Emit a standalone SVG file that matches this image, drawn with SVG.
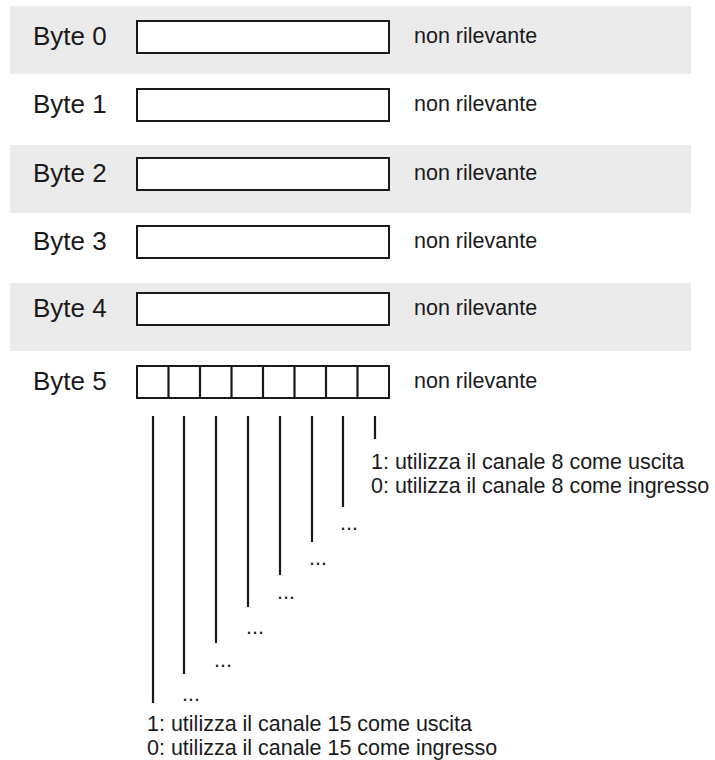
<svg xmlns="http://www.w3.org/2000/svg" width="715" height="760" viewBox="0 0 715 760">
<style>
.band{fill:#ebebeb}
.box{fill:#fff;stroke:#1a1a1a;stroke-width:2}
.lbl{font-family:"Liberation Sans",Arial,sans-serif;font-size:26px;fill:#1a1a1a}
.txt{font-family:"Liberation Sans",Arial,sans-serif;font-size:21.5px;fill:#1a1a1a}
.ln{stroke:#1a1a1a;stroke-width:2.2;fill:none}
</style>
<rect width="715" height="760" fill="#fff"/>
<rect class="band" x="10" y="6" width="681" height="68"/>
<rect class="band" x="10" y="145" width="681" height="68"/>
<rect class="band" x="10" y="283" width="681" height="68"/>

<g id="byte0">
<text class="lbl" x="33" y="45">Byte 0</text>
<rect class="box" x="137" y="21" width="252" height="32"/>
<text class="txt" x="414" y="43">non rilevante</text>
</g>
<g id="byte1">
<text class="lbl" x="33" y="113">Byte 1</text>
<rect class="box" x="137" y="89" width="252" height="32"/>
<text class="txt" x="414" y="111">non rilevante</text>
</g>
<g id="byte2">
<text class="lbl" x="33" y="182">Byte 2</text>
<rect class="box" x="137" y="158" width="252" height="32"/>
<text class="txt" x="414" y="180">non rilevante</text>
</g>
<g id="byte3">
<text class="lbl" x="33" y="250">Byte 3</text>
<rect class="box" x="137" y="226" width="252" height="32"/>
<text class="txt" x="414" y="248">non rilevante</text>
</g>
<g id="byte4">
<text class="lbl" x="33" y="317">Byte 4</text>
<rect class="box" x="137" y="293" width="252" height="32"/>
<text class="txt" x="414" y="315">non rilevante</text>
</g>
<g id="byte5">
<text class="lbl" x="33" y="390">Byte 5</text>
<rect class="box" x="137" y="366" width="252" height="32"/>
<path class="ln" d="M168.5 366V398M200 366V398M231.5 366V398M263 366V398M294.5 366V398M326 366V398M357.5 366V398" stroke-width="2"/>
<text class="txt" x="414" y="388">non rilevante</text>
</g>

<g id="connectors">
<line class="ln" x1="153" y1="416" x2="153" y2="703"/>
<line class="ln" x1="184" y1="416" x2="184" y2="674"/>
<line class="ln" x1="216" y1="416" x2="216" y2="643"/>
<line class="ln" x1="248" y1="416" x2="248" y2="607"/>
<line class="ln" x1="280" y1="416" x2="280" y2="575"/>
<line class="ln" x1="312" y1="416" x2="312" y2="542"/>
<line class="ln" x1="343" y1="416" x2="343" y2="507"/>
<line class="ln" x1="375" y1="416" x2="375" y2="439"/>
</g>

<g id="notes">
<text class="txt" x="371" y="469">1: utilizza il canale 8 come uscita</text>
<text class="txt" x="371" y="493">0: utilizza il canale 8 come ingresso</text>
<text class="txt" x="340" y="530">...</text>
<text class="txt" x="309" y="565">...</text>
<text class="txt" x="277" y="599">...</text>
<text class="txt" x="246" y="634">...</text>
<text class="txt" x="214" y="667">...</text>
<text class="txt" x="182" y="701">...</text>
<text class="txt" x="147" y="731">1: utilizza il canale 15 come uscita</text>
<text class="txt" x="147" y="755">0: utilizza il canale 15 come ingresso</text>
</g>
</svg>
